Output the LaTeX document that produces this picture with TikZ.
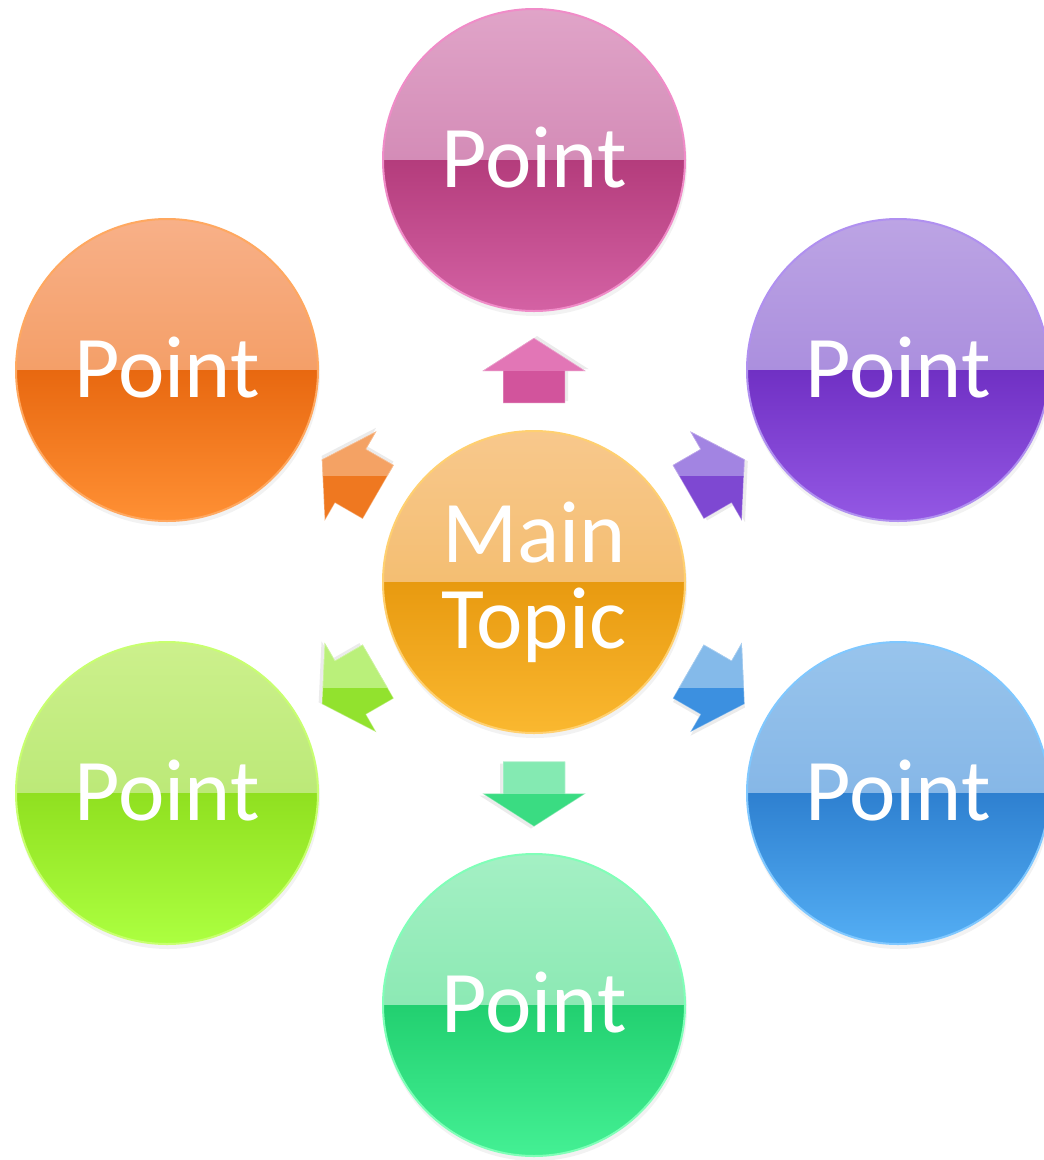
\documentclass[tikz,border=0pt]{standalone}
\usepackage{fontspec}
\setmainfont{Carlito}
\usetikzlibrary{calc}
% circle colours: top-light, mid-light, mid-dark, bottom, rim
\definecolor{pkA}{HTML}{E0A4C8}\definecolor{pkB}{HTML}{C874A6}\definecolor{pkC}{HTML}{B43C7C}\definecolor{pkD}{HTML}{D462A4}\definecolor{pkR}{HTML}{F08CC8}
\definecolor{orA}{HTML}{F8C88C}\definecolor{orB}{HTML}{F0B458}\definecolor{orC}{HTML}{E89A10}\definecolor{orD}{HTML}{FAB830}\definecolor{orR}{HTML}{FFD070}
\definecolor{ogA}{HTML}{F8B088}\definecolor{ogB}{HTML}{F08E48}\definecolor{ogC}{HTML}{E86810}\definecolor{ogD}{HTML}{FF9034}\definecolor{ogR}{HTML}{FFA860}
\definecolor{puA}{HTML}{BCA4E4}\definecolor{puB}{HTML}{9A7AD8}\definecolor{puC}{HTML}{7030C4}\definecolor{puD}{HTML}{9458E4}\definecolor{puR}{HTML}{B090F0}
\definecolor{lgA}{HTML}{CCF08C}\definecolor{lgB}{HTML}{ACE264}\definecolor{lgC}{HTML}{90E020}\definecolor{lgD}{HTML}{ACFF40}\definecolor{lgR}{HTML}{C8FF70}
\definecolor{blA}{HTML}{98C4EC}\definecolor{blB}{HTML}{74AAE2}\definecolor{blC}{HTML}{2E80D0}\definecolor{blD}{HTML}{54AEF4}\definecolor{blR}{HTML}{80C8FF}
\definecolor{gnA}{HTML}{A4F0C4}\definecolor{gnB}{HTML}{74E2A4}\definecolor{gnC}{HTML}{22D070}\definecolor{gnD}{HTML}{44F094}\definecolor{gnR}{HTML}{80FFB8}
\tikzset{
  bubble/.style n args={5}{circle, minimum size=302pt, inner sep=0pt, text=white,
    font=\fontsize{88}{86}\selectfont, align=center, draw=#5, line width=2pt,
    path picture={
      \shade[top color=#1, bottom color=#2] (path picture bounding box.north west) rectangle (path picture bounding box.east);
      \shade[top color=#3, bottom color=#4] (path picture bounding box.west) rectangle (path picture bounding box.south east);
    }},
  shadowring/.style={fill=black, opacity=0.05}
}
\newcommand\glossarrow[5]{%
  \begin{scope}[shift={($(#1)!0.5!(#2)$)}]
    \fill[rotate=#3, black, opacity=0.08, xshift=2pt, yshift=-3pt]
      (33,0) -- (0,51.5) -- (0,31) -- (-32,31) -- (-32,-31) -- (0,-31) -- (0,-51.5) -- cycle;
    \begin{scope}
      \clip[rotate=#3] (33,0) -- (0,51.5) -- (0,31) -- (-32,31) -- (-32,-31) -- (0,-31) -- (0,-51.5) -- cycle;
      \fill[#5] (-70,-70) rectangle (70,70);
      \fill[#4] (-70,-70) rectangle (70,0);
    \end{scope}
    \draw[rotate=#3, white, opacity=0.35, line width=1pt, line join=round]
      (33,0) -- (0,51.5) -- (0,31) -- (-32,31) -- (-32,-31) -- (0,-31) -- (0,-51.5) -- cycle;
  \end{scope}}
\begin{document}
\begin{tikzpicture}[x=1pt, y=-1pt]
  \useasboundingbox (0,0) rectangle (1044,1160);
  \fill[white] (0,0) rectangle (1044,1160);
  \clip (0,0) rectangle (1044,1160);
  % faint shadows
  \foreach \cx/\cy in {534/582, 534/160, 167/370, 898/370, 167/793, 898/793, 534/1005}
    \fill[shadowring] (\cx+1,\cy+4) circle (152);
  % circles
  \node[bubble={orA}{orB}{orC}{orD}{orR}] (main) at (534,582) {Main\\Topic};
  \node[bubble={pkA}{pkB}{pkC}{pkD}{pkR}] (top) at (534,160) {\raisebox{5pt}{Point}};
  \node[bubble={ogA}{ogB}{ogC}{ogD}{ogR}] (tl) at (167,370) {\raisebox{5pt}{Point}};
  \node[bubble={puA}{puB}{puC}{puD}{puR}] (tr) at (898,370) {\raisebox{5pt}{Point}};
  \node[bubble={lgA}{lgB}{lgC}{lgD}{lgR}] (bl) at (167,793) {\raisebox{5pt}{Point}};
  \node[bubble={blA}{blB}{blC}{blD}{blR}] (br) at (898,793) {\raisebox{5pt}{Point}};
  \node[bubble={gnA}{gnB}{gnC}{gnD}{gnR}] (bot) at (534,1005) {\raisebox{5pt}{Point}};
  % arrows
  \definecolor{aPkL}{HTML}{E276B6}\definecolor{aPkD}{HTML}{D2549C}
  \definecolor{aOgL}{HTML}{F4A264}\definecolor{aOgD}{HTML}{EF7820}
  \definecolor{aPuL}{HTML}{A284E2}\definecolor{aPuD}{HTML}{7E48D2}
  \definecolor{aLgL}{HTML}{BAF07A}\definecolor{aLgD}{HTML}{92E22E}
  \definecolor{aBlL}{HTML}{84BAEA}\definecolor{aBlD}{HTML}{3C90E0}
  \definecolor{aGnL}{HTML}{84EAB2}\definecolor{aGnD}{HTML}{3ADC82}
  \glossarrow{main}{top}{90}{aPkL}{aPkD}
  \glossarrow{main}{tl}{150}{aOgL}{aOgD}
  \glossarrow{main}{tr}{30}{aPuL}{aPuD}
  \glossarrow{main}{bl}{210}{aLgL}{aLgD}
  \glossarrow{main}{br}{330}{aBlL}{aBlD}
  \glossarrow{main}{bot}{270}{aGnL}{aGnD}
\end{tikzpicture}
\end{document}
